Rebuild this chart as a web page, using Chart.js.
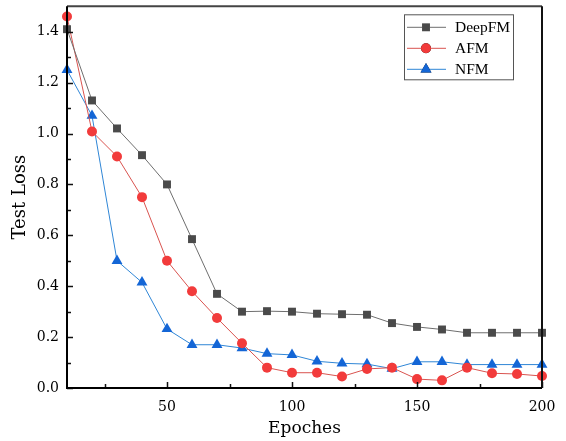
<!DOCTYPE html>
<html lang="en">
<head>
    <meta charset="UTF-8">
    <title>Test Loss vs Epoches</title>
    <script src="https://cdn.jsdelivr.net/npm/chart.js"></script>
    <style>
        html, body {
            margin: 0;
            padding: 0;
            background: #fff;
        }
        #chartContainer {
            width: 566px;
            height: 441px;
        }
    </style>
</head>
<body>
    <div id="chartContainer">
        <canvas id="lossChart"></canvas>
    </div>

    <script>
        // epochs on the x axis
        const epoches = [10, 20, 30, 40, 50, 60, 70, 80, 90, 100, 110, 120, 130, 140, 150, 160, 170, 180, 190, 200];

        // test loss
        const deepFM = [1.41, 1.13, 1.02, 0.915, 0.80, 0.585, 0.37, 0.30, 0.302, 0.30, 0.292, 0.29, 0.288, 0.255, 0.24, 0.23, 0.217, 0.217, 0.217, 0.217];
        const afm = [1.46, 1.008, 0.91, 0.75, 0.50, 0.38, 0.275, 0.176, 0.08, 0.06, 0.06, 0.045, 0.075, 0.08, 0.035, 0.03, 0.08, 0.058, 0.055, 0.047];
        const nfm = [1.25, 1.07, 0.50, 0.415, 0.232, 0.17, 0.17, 0.157, 0.135, 0.13, 0.105, 0.097, 0.094, 0.076, 0.103, 0.103, 0.092, 0.092, 0.092, 0.092];

        // tick values
        const xTicks = [25, 50, 75, 100, 125, 150, 175, 200];
        const xTickLabels = ['', '50', '', '100', '', '150', '', '200'];
        const yTicks = [0, 0.1, 0.2, 0.3, 0.4, 0.5, 0.6, 0.7, 0.8, 0.9, 1.0, 1.1, 1.2, 1.3, 1.4];
        const yTickLabels = ['0.0', '', '0.2', '', '0.4', '', '0.6', '', '0.8', '', '1.0', '', '1.2', '', '1.4'];

        const seriesNames = ['DeepFM', 'AFM', 'NFM'];

        const serif = "'DejaVu Serif', 'Liberation Serif', serif";

        function toPoints(values) {
            return values.map((v, i) => ({ x: epoches[i], y: v }));
        }

        // frame, inside ticks and legend box
        const framePlugin = {
            id: 'frame',
            afterDraw(chart) {
                const { ctx, chartArea: a, scales } = chart;
                ctx.save();

                // inside ticks
                ctx.strokeStyle = '#111';
                ctx.lineWidth = 1.5;
                ctx.beginPath();
                xTicks.forEach((v, i) => {
                    const px = Math.round(scales.x.getPixelForValue(v)) + 0.5;
                    const len = xTickLabels[i] ? 6 : 4;
                    ctx.moveTo(px, a.bottom);
                    ctx.lineTo(px, a.bottom - len);
                });
                yTicks.forEach((v, i) => {
                    const py = Math.round(scales.y.getPixelForValue(v)) + 0.5;
                    const len = yTickLabels[i] ? 6 : 4;
                    ctx.moveTo(a.left, py);
                    ctx.lineTo(a.left + len, py);
                });
                ctx.stroke();

                // top and right border
                ctx.strokeStyle = '#444';
                ctx.lineWidth = 2;
                ctx.beginPath();
                ctx.moveTo(a.left, a.top);
                ctx.lineTo(a.right, a.top);
                ctx.stroke();
                ctx.strokeStyle = '#111';
                ctx.beginPath();
                ctx.moveTo(a.right, a.top);
                ctx.lineTo(a.right, a.bottom);
                ctx.stroke();

                // left and bottom axis
                ctx.strokeStyle = '#000';
                ctx.lineWidth = 2;
                ctx.beginPath();
                ctx.moveTo(a.left, a.top);
                ctx.lineTo(a.left, a.bottom);
                ctx.lineTo(a.right, a.bottom);
                ctx.stroke();

                // legend
                const boxX = a.right - 138, boxY = a.top + 8, boxW = 109, boxH = 65;
                ctx.fillStyle = '#fff';
                ctx.fillRect(boxX, boxY, boxW, boxH);
                ctx.strokeStyle = '#555';
                ctx.lineWidth = 1;
                ctx.strokeRect(boxX + 0.5, boxY + 0.5, boxW, boxH);

                ctx.font = "15.5px 'Liberation Serif', serif";
                ctx.textBaseline = 'middle';
                chart.data.datasets.forEach((ds, i) => {
                    const rowY = boxY + 13 + i * 21;
                    ctx.strokeStyle = ds.borderColor;
                    ctx.lineWidth = 1;
                    ctx.beginPath();
                    ctx.moveTo(boxX + 3, rowY);
                    ctx.lineTo(boxX + 42, rowY);
                    ctx.stroke();
                    Chart.helpers.drawPoint(ctx, {
                        pointStyle: ds.pointStyle,
                        radius: ds.pointRadius,
                        borderWidth: 0
                    }, boxX + 22, rowY);
                    ctx.fillStyle = ds.pointBackgroundColor;
                    ctx.fill();
                    ctx.fillStyle = '#000';
                    ctx.fillText(ds.label, boxX + 51, rowY + 1);
                });

                ctx.restore();
            }
        };

        const ctx = document.getElementById('lossChart').getContext('2d');
        const chart = new Chart(ctx, {
            type: 'line',
            data: {
                datasets: [{
                    label: seriesNames[0],
                    data: toPoints(deepFM),
                    borderColor: '#6e6e6e',
                    borderWidth: 1,
                    pointStyle: 'rect',
                    pointRadius: 5.6,
                    pointBackgroundColor: '#4a4a4a',
                    pointBorderColor: '#4a4a4a',
                    pointBorderWidth: 0,
                    clip: false
                }, {
                    label: seriesNames[1],
                    data: toPoints(afm),
                    borderColor: '#d9534f',
                    borderWidth: 1,
                    pointStyle: 'circle',
                    pointRadius: 5,
                    pointBackgroundColor: '#f23b3b',
                    pointBorderColor: '#f23b3b',
                    pointBorderWidth: 0,
                    clip: false
                }, {
                    label: seriesNames[2],
                    data: toPoints(nfm),
                    borderColor: '#2f86d6',
                    borderWidth: 1,
                    pointStyle: 'triangle',
                    pointRadius: 6.3,
                    pointBackgroundColor: '#1466d6',
                    pointBorderColor: '#1466d6',
                    pointBorderWidth: 0,
                    clip: false
                }]
            },
            options: {
                responsive: true,
                maintainAspectRatio: false,
                animation: false,
                layout: {
                    padding: { top: 5, right: 24, bottom: 0, left: 0 }
                },
                scales: {
                    x: {
                        type: 'linear',
                        min: 10,
                        max: 200,
                        afterBuildTicks(scale) {
                            scale.ticks = xTicks.map(v => ({ value: v }));
                        },
                        afterFit(scale) {
                            scale.height = 53;
                            scale.paddingLeft = 0;
                            scale.paddingRight = 0;
                        },
                        grid: { display: false, drawTicks: false },
                        border: { display: false },
                        ticks: {
                            autoSkip: false,
                            maxRotation: 0,
                            padding: 11,
                            color: '#000',
                            font: { family: serif, size: 14 },
                            callback: (value, index) => xTickLabels[index]
                        },
                        title: {
                            display: true,
                            text: 'Epoches',
                            color: '#000',
                            font: { family: serif, size: 17 },
                            padding: { top: 0, bottom: 2 }
                        }
                    },
                    y: {
                        min: 0,
                        max: 1.5,
                        afterBuildTicks(scale) {
                            scale.ticks = yTicks.map(v => ({ value: v }));
                        },
                        afterFit(scale) {
                            scale.width = 67;
                            scale.paddingTop = 0;
                            scale.paddingBottom = 0;
                        },
                        grid: { display: false, drawTicks: false },
                        border: { display: false },
                        ticks: {
                            autoSkip: false,
                            padding: 8,
                            color: '#000',
                            font: { family: serif, size: 14 },
                            callback: (value, index) => yTickLabels[index]
                        },
                        title: {
                            display: true,
                            text: 'Test Loss',
                            color: '#000',
                            font: { family: serif, size: 18 },
                            padding: { top: 10, bottom: 0 }
                        }
                    }
                },
                plugins: {
                    legend: { display: false },
                    tooltip: { enabled: false }
                }
            },
            plugins: [framePlugin]
        });
    </script>
</body>
</html>
